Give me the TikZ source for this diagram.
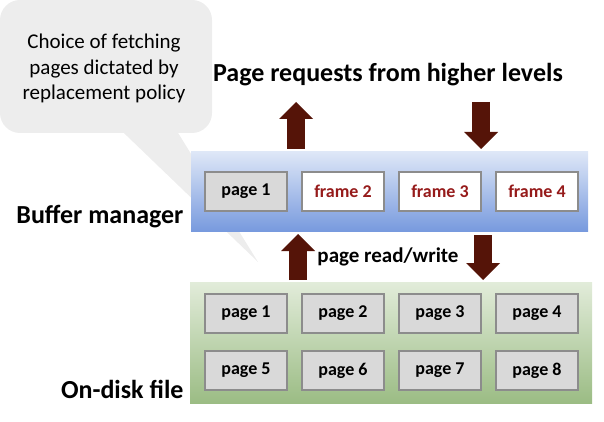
\documentclass[tikz,border=0pt]{standalone}
\usepackage{fontspec}
\setmainfont{Carlito}
\usetikzlibrary{positioning, arrows.meta}

\definecolor{calloutgray}{RGB}{237,237,237}
\definecolor{buftop}{RGB}{222,231,247}
\definecolor{bufbottom}{RGB}{120,154,222}
\definecolor{disktop}{RGB}{226,236,218}
\definecolor{diskbottom}{RGB}{155,188,132}
\definecolor{pagegray}{RGB}{217,217,217}
\definecolor{boxgray}{RGB}{140,140,140}
\definecolor{framered}{RGB}{150,27,27}
\definecolor{arrowbrown}{RGB}{85,20,8}

\begin{document}
\begin{tikzpicture}[x=1pt, y=-1pt, node distance=97pt, on grid,
    callout/.style={fill=calloutgray, rounded corners=20pt, minimum width=212pt, minimum height=133pt, align=center, font=\fontsize{21}{25.5}\selectfont},
    panel/.style={minimum width=397pt, inner sep=0pt},
    pagebox/.style={draw=boxgray, fill=pagegray, line width=1.8pt, minimum width=82pt, minimum height=39pt, inner sep=0pt, font=\fontsize{18}{20}\selectfont\bfseries},
    framebox/.style={pagebox, fill=white, text=framered},
    bigarrow/.style={line width=18pt, arrowbrown, -{Triangle[width=34pt, length=17pt, line width=0pt]}},
    title/.style={font=\fontsize{26}{30}\selectfont\bfseries}]
        \useasboundingbox (0,0) rectangle (604,422);

        % callout with its tail behind the buffer
        \node[callout] (note) at (106,66.5) {};
        \node[font=\fontsize{21}{25.5}\selectfont, align=center] (notetext) at (104,68.5) {Choice of fetching\\pages dictated by\\replacement policy};
        \coordinate (tip) at (258,262);
        \fill[calloutgray] ([xshift=16pt,yshift=2pt]note.south) -- (tip) -- ([xshift=71pt,yshift=2pt]note.south) -- cycle;

        \node[title] (req) at (388,75) {Page requests from higher levels};

        % panels
        \node[panel, minimum height=79pt, top color=buftop, bottom color=bufbottom] (buf) at (389.5,191.5) {};
        \node[panel, minimum width=402pt, minimum height=121pt, top color=disktop, bottom color=diskbottom] (disk) at (391,342.5) {};

        \node[title, anchor=east] (bufname) at (187,217) {Buffer manager};
        \node[title, anchor=east] (diskname) at (187,389) {On-disk file};

        % buffer frames
        \node[pagebox] (b1) at (246,191.5) {page 1};
        \node[framebox] (b2) [right=of b1] {frame 2};
        \node[framebox] (b3) [right=of b2] {frame 3};
        \node[framebox] (b4) [right=of b3] {frame 4};

        % pages on disk
        \node[pagebox] (d1) at (246,313.5) {page 1};
        \node[pagebox] (d2) [right=of d1] {page 2};
        \node[pagebox] (d3) [right=of d2] {page 3};
        \node[pagebox] (d4) [right=of d3] {page 4};
        \node[pagebox] (d5) [below=57pt of d1] {page 5};
        \node[pagebox] (d6) [right=of d5] {page 6};
        \node[pagebox] (d7) [right=of d6] {page 7};
        \node[pagebox] (d8) [right=of d7] {page 8};

        \node[font=\fontsize{21}{25}\selectfont\bfseries] (rw) at (388,257) {page read/write};

        % block arrows
        \coordinate (upfrom) at (296,149);
        \coordinate (upto) at (296,102);
        \coordinate (downfrom) at (481,102);
        \coordinate (downto) at (481,149);
        \coordinate (readfrom) at (298,280);
        \coordinate (readto) at (298,234);
        \coordinate (writefrom) at (483,235);
        \coordinate (writeto) at (483,280);
        \draw[bigarrow] (upfrom) -- (upto);
        \draw[bigarrow] (downfrom) -- (downto);
        \draw[bigarrow] (readfrom) -- (readto);
        \draw[bigarrow] (writefrom) -- (writeto);
\end{tikzpicture}
\end{document}
